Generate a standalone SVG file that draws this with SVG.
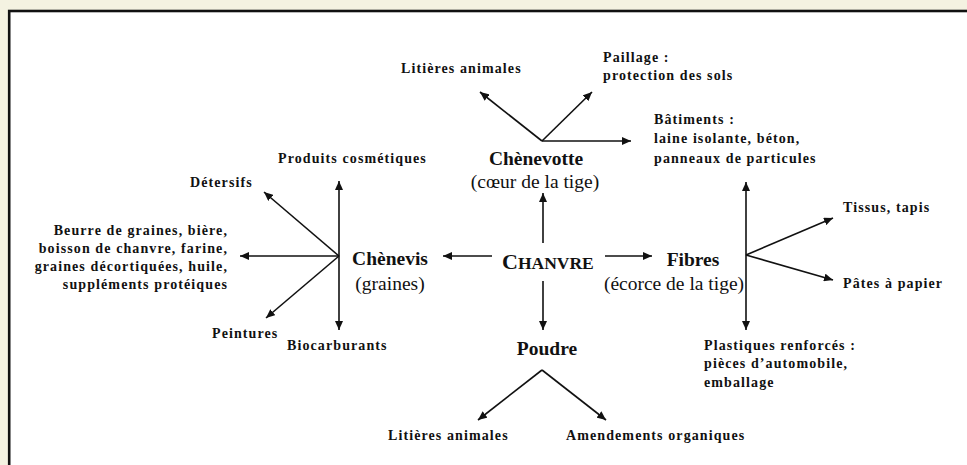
<svg xmlns="http://www.w3.org/2000/svg" width="967" height="465" viewBox="0 0 967 465">
<style>
.lbl{font-family:"Liberation Serif","Times New Roman",serif;font-weight:bold;font-size:14px;letter-spacing:1.1px;fill:#111}
.hub{font-family:"Liberation Serif","Times New Roman",serif;font-weight:bold;font-size:19.5px;fill:#111}
.sub{font-family:"Liberation Serif","Times New Roman",serif;font-size:19.5px;fill:#111}
.c line{stroke:#111;stroke-width:1.6;marker-end:url(#ah)}
</style>
<defs>
<marker id="ah" markerUnits="userSpaceOnUse" markerWidth="10" markerHeight="8" refX="9" refY="4" orient="auto">
<path d="M0,0 L9,4 L0,8 z" fill="#111"/>
</marker>
</defs>
<rect x="0" y="0" width="967" height="465" fill="#F4F2E1"/>
<rect x="9.2" y="11" width="970" height="470" fill="#fff" stroke="#111" stroke-width="2.6"/>

<g class="c" id="connectors">
<line x1="543" y1="243" x2="543" y2="193"/>
<line x1="492" y1="256" x2="443" y2="256"/>
<line x1="605" y1="256" x2="652" y2="256"/>
<line x1="543" y1="281" x2="543" y2="330"/>
<line x1="542" y1="141" x2="480" y2="92"/>
<line x1="542" y1="141" x2="592" y2="92"/>
<line x1="542" y1="141" x2="631" y2="141"/>
<line x1="746" y1="256" x2="746" y2="182"/>
<line x1="746" y1="256" x2="746" y2="330"/>
<line x1="746" y1="255" x2="833" y2="218"/>
<line x1="746" y1="255" x2="833" y2="280"/>
<line x1="542" y1="370" x2="478" y2="420"/>
<line x1="542" y1="370" x2="606" y2="420"/>
<line x1="339" y1="256" x2="339" y2="181"/>
<line x1="339" y1="256" x2="339" y2="330"/>
<line x1="339" y1="256" x2="264" y2="192"/>
<line x1="339" y1="256" x2="240" y2="256"/>
<line x1="339" y1="256" x2="266" y2="318"/>
</g>

<g id="chanvre"><text x="502" y="269" font-family="Liberation Serif,serif" font-weight="bold" fill="#111"><tspan font-size="22">C</tspan><tspan font-size="17.5">HANVRE</tspan></text></g>
<g id="chenevotte"><text class="hub" x="536" y="165" text-anchor="middle">Chènevotte</text><text class="sub" x="535" y="188" text-anchor="middle">(cœur de la tige)</text></g>
<g id="chenevis"><text class="hub" x="390" y="265" text-anchor="middle">Chènevis</text><text class="sub" x="390" y="290" text-anchor="middle">(graines)</text></g>
<g id="fibres"><text class="hub" x="693" y="266" text-anchor="middle">Fibres</text><text class="sub" x="674" y="290" text-anchor="middle">(écorce de la tige)</text></g>
<g id="poudre"><text class="hub" x="547" y="355" text-anchor="middle">Poudre</text></g>

<g id="litieres-haut"><text class="lbl" x="401" y="73">Litières animales</text></g>
<g id="paillage"><text class="lbl" x="603" y="62">Paillage :<tspan x="603" y="80">protection des sols</tspan></text></g>
<g id="batiments"><text class="lbl" x="654" y="124">Bâtiments :<tspan x="654" y="143">laine isolante, béton,</tspan><tspan x="654" y="163">panneaux de particules</tspan></text></g>
<g id="tissus"><text class="lbl" x="843" y="212">Tissus, tapis</text></g>
<g id="pates"><text class="lbl" x="843" y="288">Pâtes à papier</text></g>
<g id="plastiques"><text class="lbl" x="704" y="350">Plastiques renforcés :<tspan x="704" y="368">pièces d’automobile,</tspan><tspan x="704" y="387">emballage</tspan></text></g>
<g id="litieres-bas"><text class="lbl" x="388" y="440">Litières animales</text></g>
<g id="amendements"><text class="lbl" x="566" y="440">Amendements organiques</text></g>
<g id="cosmetiques"><text class="lbl" x="278" y="163">Produits cosmétiques</text></g>
<g id="detersifs"><text class="lbl" x="190" y="187">Détersifs</text></g>
<g id="beurre"><text class="lbl" x="228" y="235" text-anchor="end">Beurre de graines, bière,<tspan x="228" y="253">boisson de chanvre, farine,</tspan><tspan x="228" y="271">graines décortiquées, huile,</tspan><tspan x="228" y="289">suppléments protéiques</tspan></text></g>
<g id="peintures"><text class="lbl" x="212" y="338">Peintures</text></g>
<g id="biocarburants"><text class="lbl" x="287" y="350">Biocarburants</text></g>
</svg>
